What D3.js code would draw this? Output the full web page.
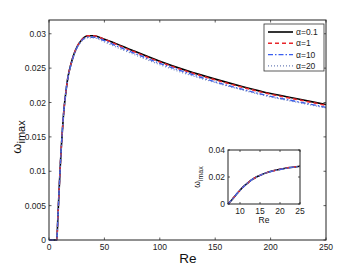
<!DOCTYPE html>
<html>
<head>
<meta charset="utf-8">
<script src="https://cdn.jsdelivr.net/npm/d3@7"></script>
<style>
  body { margin: 0; background: #fff; }
  svg { font-family: "Liberation Sans", Arial, sans-serif; }
</style>
</head>
<body>
<svg id="viz" width="360" height="270"></svg>
<script>
// Reynolds numbers and omega_imax for each alpha
var reValues  = [0, 5, 7, 8, 9, 10, 11, 12, 13, 14, 15, 16, 17, 18, 20, 22, 25, 30, 35, 40, 50, 60, 75, 100, 125, 150, 175, 200, 225, 250];
var alpha01   = [0, 0, 0, 0.0032, 0.0068, 0.0102, 0.0132, 0.0157, 0.0180, 0.0198, 0.0212, 0.0225, 0.0236, 0.0244, 0.0257, 0.0268, 0.0280, 0.0292, 0.0297, 0.0297, 0.0292, 0.0286, 0.0276, 0.0260, 0.0246, 0.0234, 0.0223, 0.0213, 0.0205, 0.0197];
var alpha1    = [0, 0, 0, 0.0032, 0.0068, 0.0102, 0.0132, 0.0157, 0.0180, 0.0198, 0.0212, 0.0225, 0.0236, 0.0244, 0.0257, 0.0268, 0.0280, 0.0292, 0.0297, 0.0297, 0.0292, 0.0285, 0.0275, 0.0259, 0.0245, 0.0233, 0.0222, 0.0212, 0.0204, 0.0196];
var alpha10   = [0, 0, 0, 0.0032, 0.0068, 0.0102, 0.0132, 0.0157, 0.0180, 0.0198, 0.0212, 0.0225, 0.0235, 0.0243, 0.0256, 0.0267, 0.0279, 0.0291, 0.0295, 0.0295, 0.0290, 0.0283, 0.0273, 0.0257, 0.0243, 0.0230, 0.0219, 0.0209, 0.0201, 0.0193];
var alpha20   = [0, 0, 0, 0.0032, 0.0068, 0.0102, 0.0132, 0.0157, 0.0180, 0.0198, 0.0212, 0.0225, 0.0235, 0.0243, 0.0255, 0.0266, 0.0278, 0.0290, 0.0294, 0.0294, 0.0288, 0.0281, 0.0271, 0.0255, 0.0241, 0.0229, 0.0218, 0.0208, 0.0200, 0.0192];
var seriesNames = ["\u03b1=0.1", "\u03b1=1", "\u03b1=10", "\u03b1=20"];
var xTicks = [0, 50, 100, 150, 200, 250];
var yTicks = [0, 0.005, 0.01, 0.015, 0.02, 0.025, 0.03];
var insetXTicks = [10, 15, 20, 25];
var insetYTicks = [0, 0.02, 0.04];

var styles = [
  {color: "#000000", width: 1.6, dash: null},
  {color: "#e8262b", width: 1.5, dash: "4,3"},
  {color: "#3a5ef0", width: 1.4, dash: "5,2,1.5,2"},
  {color: "#6e80b8", width: 1.2, dash: "1,2"}
];

var svg = d3.select("#viz");
var allSeries = [alpha01, alpha1, alpha10, alpha20];

function drawAxes(g, x, y, xt, yt, xfmt, yfmt, tickLen) {
  var x0 = x.range()[0], x1 = x.range()[1], y0 = y.range()[0], y1 = y.range()[1];
  g.append("rect").attr("x", x0).attr("y", y1).attr("width", x1 - x0).attr("height", y0 - y1)
    .attr("fill", "#fff");
  var ax = g.append("g").attr("class", "axes");
  xt.forEach(function(t) {
    ax.append("line").attr("x1", x(t)).attr("x2", x(t)).attr("y1", y0).attr("y2", y0 - tickLen);
    ax.append("line").attr("x1", x(t)).attr("x2", x(t)).attr("y1", y1).attr("y2", y1 + tickLen);
    g.append("text").attr("x", x(t)).attr("y", y0 + 10).attr("text-anchor", "middle")
      .attr("font-size", 8.5).attr("fill", "#222").text(xfmt(t));
  });
  yt.forEach(function(t) {
    ax.append("line").attr("x1", x0).attr("x2", x0 + tickLen).attr("y1", y(t)).attr("y2", y(t));
    ax.append("line").attr("x1", x1).attr("x2", x1 - tickLen).attr("y1", y(t)).attr("y2", y(t));
    g.append("text").attr("x", x0 - 3).attr("y", y(t) + 3).attr("text-anchor", "end")
      .attr("font-size", 8.5).attr("fill", "#222").text(yfmt(t));
  });
  ax.selectAll("line").attr("stroke", "#333").attr("stroke-width", 0.8);
}

function drawBox(g, x, y) {
  g.append("rect").attr("x", x.range()[0]).attr("y", y.range()[1])
    .attr("width", x.range()[1] - x.range()[0]).attr("height", y.range()[0] - y.range()[1])
    .attr("fill", "none").attr("stroke", "#222").attr("stroke-width", 1);
}

function drawLines(g, x, y, maxRe, minRe) {
  var line = d3.line()
    .x(function(d) { return x(d[0]); })
    .y(function(d) { return y(d[1]); })
    .curve(d3.curveMonotoneX);
  allSeries.forEach(function(vals, i) {
    var pts = [];
    for (var k = 0; k < reValues.length; k++) {
      if (reValues[k] <= maxRe && reValues[k] >= minRe) pts.push([reValues[k], vals[k]]);
    }
    g.append("path").datum(pts).attr("d", line)
      .attr("fill", "none").attr("stroke", styles[i].color)
      .attr("stroke-width", styles[i].width)
      .attr("stroke-dasharray", styles[i].dash);
  });
}

// main plot
var xScale = d3.scaleLinear().domain([0, 250]).range([49, 326]);
var yScale = d3.scaleLinear().domain([0, 0.032]).range([240, 20]);
var main = svg.append("g");
drawAxes(main, xScale, yScale, xTicks, yTicks, d3.format("d"), function(v) { return v === 0 ? "0" : String(+v.toFixed(3)); }, 2.5);
drawLines(main, xScale, yScale, 250, 0);
drawBox(main, xScale, yScale);

main.append("text").attr("x", 188).attr("y", 263).attr("text-anchor", "middle")
  .attr("font-size", 13.5).attr("fill", "#111").text("Re");
var yl = main.append("text").attr("transform", "translate(21,137) rotate(-90)")
  .attr("text-anchor", "middle").attr("fill", "#111");
yl.append("tspan").attr("font-size", 13).text("\u03c9");
yl.append("tspan").attr("font-size", 11).attr("dy", 4).text("imax");

// legend
var leg = svg.append("g");
leg.append("rect").attr("x", 264).attr("y", 24).attr("width", 60).attr("height", 47)
  .attr("fill", "#fff").attr("stroke", "#333").attr("stroke-width", 0.8);
seriesNames.forEach(function(name, i) {
  var ly = 32 + i * 11.3;
  leg.append("line").attr("x1", 268).attr("x2", 293).attr("y1", ly).attr("y2", ly)
    .attr("stroke", styles[i].color).attr("stroke-width", styles[i].width)
    .attr("stroke-dasharray", styles[i].dash);
  leg.append("text").attr("x", 296).attr("y", ly + 3).attr("font-size", 8.5)
    .attr("fill", "#222").text(name);
});

// inset
var insetX = d3.scaleLinear().domain([7, 25]).range([228, 300]);
var insetY = d3.scaleLinear().domain([0, 0.04]).range([204, 150]);
var inset = svg.append("g");
drawAxes(inset, insetX, insetY, insetXTicks, insetYTicks, d3.format("d"), function(v) { return v === 0 ? "0" : String(v); }, 2);
drawLines(inset, insetX, insetY, 25, 7);
drawBox(inset, insetX, insetY);
inset.append("text").attr("x", 264).attr("y", 223).attr("text-anchor", "middle")
  .attr("font-size", 8.5).attr("fill", "#111").text("Re");
var iyl = inset.append("text").attr("transform", "translate(200,177) rotate(-90)")
  .attr("text-anchor", "middle").attr("fill", "#111");
iyl.append("tspan").attr("font-size", 8.5).text("\u03c9");
iyl.append("tspan").attr("font-size", 7).attr("dy", 3).text("imax");
</script>
</body>
</html>
